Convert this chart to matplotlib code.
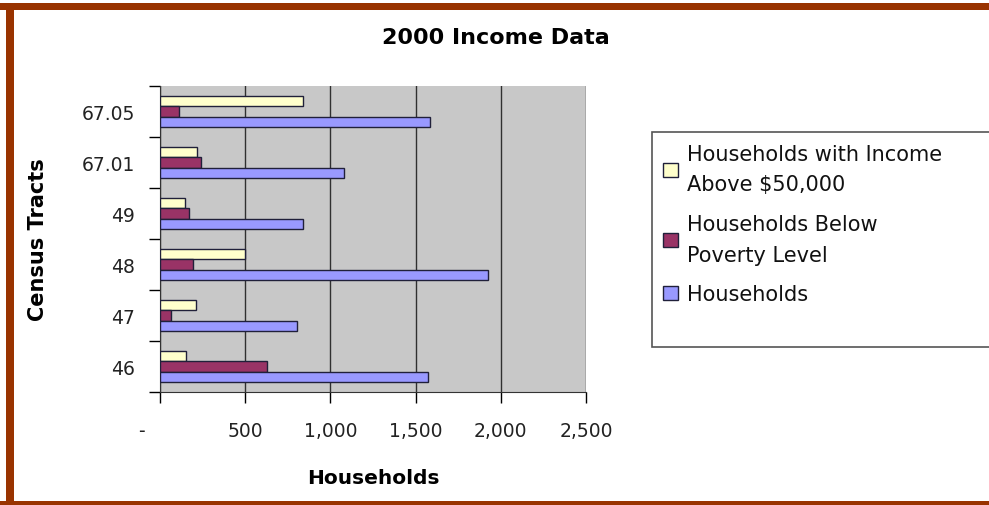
import matplotlib
matplotlib.use('Agg')
import matplotlib.pyplot as plt
from matplotlib.patches import Rectangle
import numpy as np

tracts = ["46", "47", "48", "49", "67.01", "67.05"]
households = [1570, 805, 1925, 840, 1080, 1585]
below_poverty = [630, 65, 195, 170, 240, 110]
income_above_50k = [155, 210, 500, 145, 220, 840]

x_ticks = [0, 500, 1000, 1500, 2000, 2500]
x_tick_labels = ["-      ", "500", "1,000", "1,500", "2,000", "2,500"]

plt.rcParams['font.family'] = ['DejaVu Sans']

fig = plt.figure(figsize=(9.89, 5.06), dpi=100)
fig.patch.set_facecolor('white')

# brown frame around the picture (top, left, bottom)
brown = '#993300'
fig.patches.append(Rectangle((0, 1 - 11 / 506), 1, 7 / 506, transform=fig.transFigure,
                             facecolor=brown, edgecolor='none'))
fig.patches.append(Rectangle((6 / 989, 0), 8 / 989, 1 - 4 / 506, transform=fig.transFigure,
                             facecolor=brown, edgecolor='none'))
fig.patches.append(Rectangle((0, 0), 1, 4 / 506, transform=fig.transFigure,
                             facecolor=brown, edgecolor='none'))

ax = fig.add_axes([160 / 989, 1 - 393 / 506, 426 / 989, 306 / 506])
ax.set_facecolor('#c8c8c8')

y = np.arange(len(tracts))
h = 0.2
edge = '#20203a'
b1 = ax.barh(y + h, income_above_50k, height=h, color='#ffffcc', edgecolor=edge, linewidth=1,
             label='Households with Income\nAbove $50,000', zorder=3)
b2 = ax.barh(y, below_poverty, height=h, color='#993366', edgecolor=edge, linewidth=1,
             label='Households Below\nPoverty Level', zorder=3)
b3 = ax.barh(y - h, households, height=h, color='#9999ff', edgecolor=edge, linewidth=1,
             label='Households', zorder=3)

ax.set_xlim(0, 2500)
ax.set_ylim(-0.5, len(tracts) - 0.5)
ax.set_xticks(x_ticks)
ax.set_xticklabels(x_tick_labels, fontsize=13.5, color='#222222')
ax.set_yticks(y)
ax.set_yticklabels(tracts, fontsize=13.5, color='#222222')
ax.set_yticks(np.arange(len(tracts) + 1) - 0.5, minor=True)
ax.tick_params(axis='y', which='major', length=0, pad=18)
ax.tick_params(axis='y', which='minor', length=8, width=1, direction='out')
ax.tick_params(axis='x', which='major', length=8, width=1, direction='out', pad=13)

ax.xaxis.grid(True, color='#303030', linewidth=1)
ax.set_axisbelow(True)
for s in ['top', 'right']:
    ax.spines[s].set_visible(False)
ax.spines['left'].set_color('#333333')
ax.spines['bottom'].set_color('#333333')

ax.set_xlabel('Households', fontsize=14.5, fontweight='bold', labelpad=20)
ax.set_ylabel('Census Tracts', fontsize=15, fontweight='bold', labelpad=24)

fig.text(496 / 989, 1 - 38 / 506, '2000 Income Data', fontsize=16, fontweight='bold',
         ha='center', va='center')

# legend box (runs off the right edge like the original)
fig.patches.append(Rectangle((652 / 989, 1 - 348 / 506), 400 / 989, 215 / 506,
                             transform=fig.transFigure, facecolor='white',
                             edgecolor='#555555', linewidth=1.2, zorder=1))
leg = fig.legend(handles=[b1, b2, b3], loc='upper left',
                 bbox_to_anchor=(663 / 989, 1 - 145 / 506), fontsize=15,
                 frameon=False, handlelength=0.7, handleheight=0.7, handletextpad=0.45,
                 labelspacing=0.95, borderpad=0, borderaxespad=0)
for t in leg.get_texts():
    t.set_linespacing(1.65)
    t.set_color('#111111')

plt.savefig('out.png', dpi=100)
